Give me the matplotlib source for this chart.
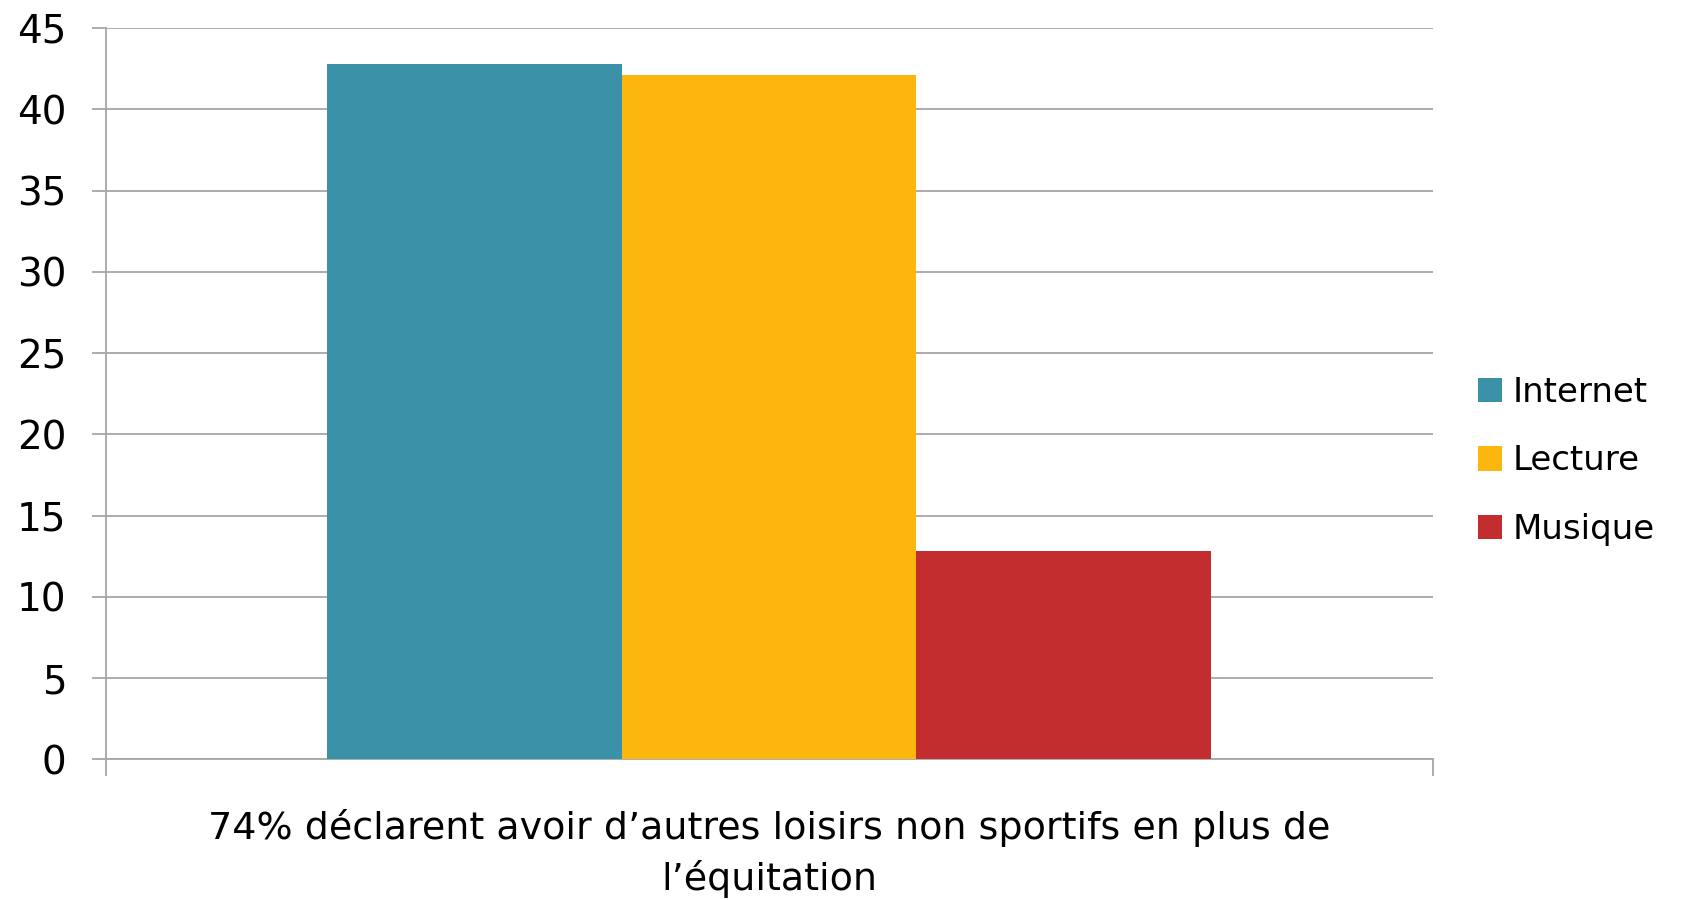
import numpy as np
import matplotlib.pyplot as plt

plt.rcParams['font.family'] = ['DejaVu Sans']

categories = ['Internet', 'Lecture', 'Musique']
values = [42.8, 42.1, 12.8]
colors = ['#3A91A8', '#FDB60E', '#C32D2F']
xlabel = "74% déclarent avoir d\u2019autres loisirs non sportifs en plus de\nl\u2019équitation"

fig = plt.figure(figsize=(16.89, 9.0), dpi=100)
ax = fig.add_axes([0.0625, 0.1562, 0.7857, 0.8127])

w = 0.222
offsets = (np.arange(len(categories)) - 1) * w
for off, v, c, name in zip(offsets, values, colors, categories):
    ax.bar(off, v, width=w, color=c, label=name, zorder=3)

ax.set_xlim(-0.5, 0.5)
ax.set_ylim(0, 45)
ax.set_yticks(np.arange(0, 46, 5))
ax.set_xticks([-0.5, 0.5])
ax.set_xticklabels(['', ''])
ax.yaxis.grid(True, color='#a6a6a6', linewidth=1.3, zorder=0)
ax.tick_params(axis='y', length=10, width=1.3, color='#a6a6a6', labelsize=28, pad=18)
ax.tick_params(axis='x', length=12, width=1.3, color='#a6a6a6')
for s in ['top', 'right']:
    ax.spines[s].set_visible(False)
for s in ['left', 'bottom']:
    ax.spines[s].set_color('#a6a6a6')
    ax.spines[s].set_linewidth(1.3)

ax.set_xlabel(xlabel, fontsize=27.4, linespacing=1.45, labelpad=20)

ax.legend(loc='center left', bbox_to_anchor=(1.011, 0.408), frameon=False,
          fontsize=24.5, handlelength=0.72, handleheight=0.72, handletextpad=0.3,
          labelspacing=1.05)

fig.savefig('out.png', dpi=100)
